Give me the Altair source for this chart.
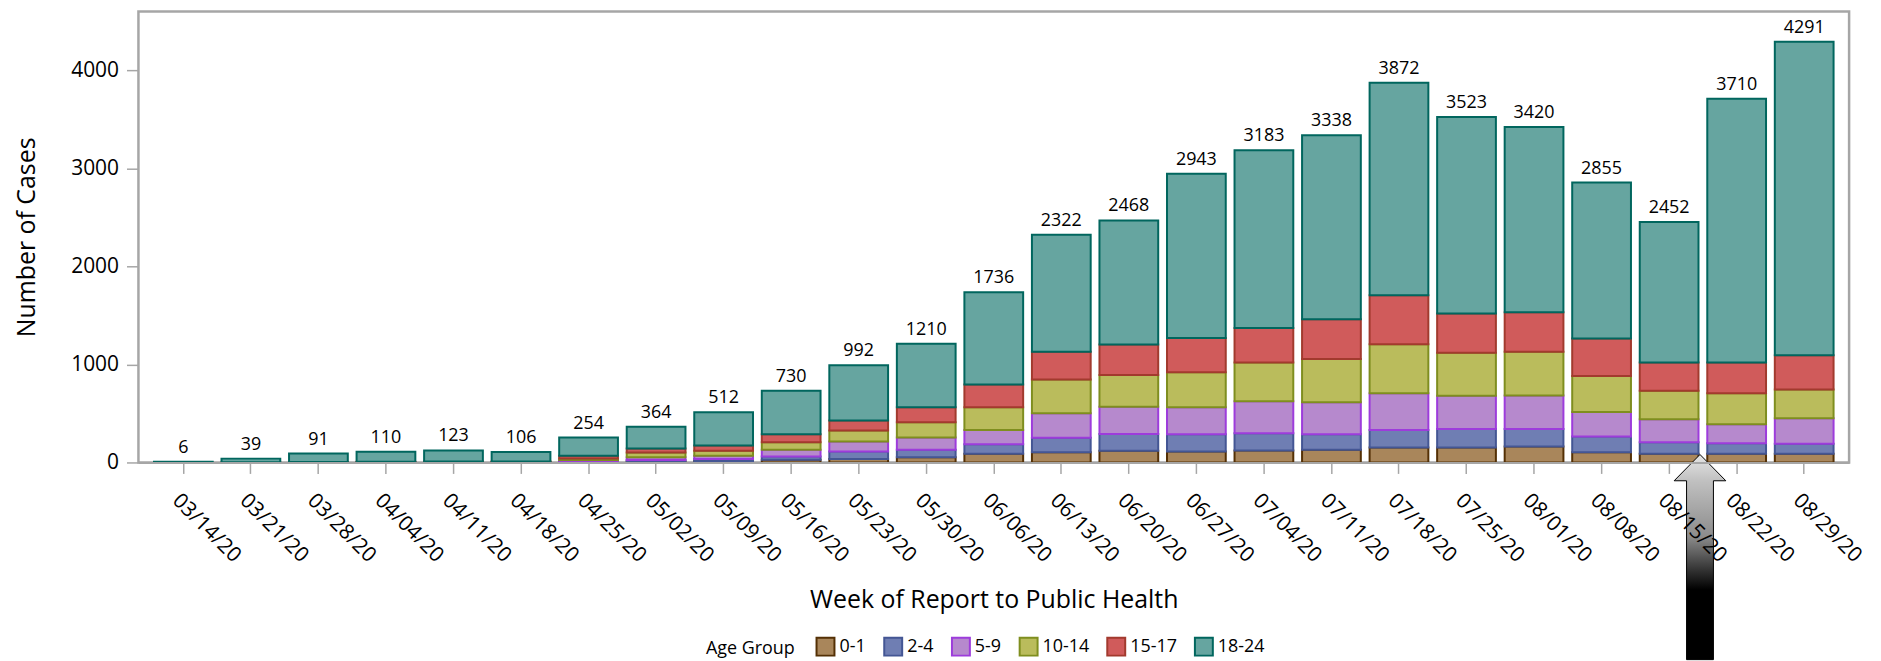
import altair as alt
import pandas as pd

weeks = ["03/14/20", "03/21/20", "03/28/20", "04/04/20", "04/11/20", "04/18/20",
         "04/25/20", "05/02/20", "05/09/20", "05/16/20", "05/23/20", "05/30/20",
         "06/06/20", "06/13/20", "06/20/20", "06/27/20", "07/04/20", "07/11/20",
         "07/18/20", "07/25/20", "08/01/20", "08/08/20", "08/15/20", "08/22/20",
         "08/29/20"]

age_groups = ["0-1", "2-4", "5-9", "10-14", "15-17", "18-24"]

cases_0_1 = [0, 0, 0, 0, 1, 1, 7, 10, 14, 27, 34, 54, 88, 105, 119, 112, 122, 129,
             152, 152, 163, 105, 88, 88, 88]
cases_2_4 = [0, 0, 0, 1, 1, 1, 7, 14, 20, 34, 78, 75, 98, 146, 172, 176, 176, 159,
             180, 190, 179, 159, 119, 108, 102]
cases_5_9 = [0, 0, 1, 1, 2, 2, 10, 30, 34, 68, 101, 125, 146, 250, 278, 274, 325, 325,
             373, 339, 342, 251, 233, 194, 261]
cases_10_14 = [0, 0, 1, 2, 2, 3, 17, 48, 51, 78, 112, 156, 230, 346, 322, 359, 397, 441,
               501, 437, 444, 366, 292, 315, 294]
cases_15_17 = [0, 1, 2, 3, 4, 4, 27, 40, 54, 81, 102, 152, 234, 281, 312, 349, 352, 406,
               498, 400, 403, 383, 288, 315, 349]
cases_18_24 = [6, 38, 87, 103, 113, 95, 186, 222, 339, 442, 565, 648, 940, 1194, 1265,
               1673, 1811, 1878, 2168, 2005, 1889, 1591, 1432, 2690, 3197]

totals = [6, 39, 91, 110, 123, 106, 254, 364, 512, 730, 992, 1210, 1736, 2322, 2468,
          2943, 3183, 3338, 3872, 3523, 3420, 2855, 2452, 3710, 4291]

y_ticks = [0, 1000, 2000, 3000, 4000]

fill_colors = ["#A9865B", "#6F7EB3", "#B689CD", "#BABC5C", "#D05B5B", "#66A5A0"]
stroke_colors = ["#543005", "#445694", "#9D3CDB", "#7F8E1F", "#A23A2E", "#01665E"]

# annotation arrow (below the axis, pointing up between 08/15 and 08/22)
arrow_week = ["08/15/20"]
arrow_y = [-965]

series = [cases_0_1, cases_2_4, cases_5_9, cases_10_14, cases_15_17, cases_18_24]
rows = []
for gi, (g, vals) in enumerate(zip(age_groups, series)):
    for w, v in zip(weeks, vals):
        rows.append({"week": w, "group": g, "order": gi, "cases": v})
df = pd.DataFrame(rows)
tot_df = pd.DataFrame({"week": weeks, "total": totals})
arrow_df = pd.DataFrame({"week": arrow_week, "y": arrow_y})

FONT = "Open Sans"
GRAY = "#a6a6a6"

xscale = alt.Scale(domain=weeks, paddingInner=0.13, paddingOuter=0.23)
yscale = alt.Scale(domain=[0, 4600], nice=False, zero=True)

xaxis = alt.Axis(title="Week of Report to Public Health", labelAngle=45,
                 labelAlign="left", labelBaseline="top", labelPadding=16,
                 tickSize=11, tickWidth=1.5, labelFontSize=21, titleFontSize=25,
                 titlePadding=22, labelOverlap=False, domainWidth=2, zindex=1)
yaxis = alt.Axis(title="Number of Cases", values=y_ticks, format="d", tickSize=12,
                 tickWidth=1.5, labelPadding=8, labelFontSize=21,
                 titleFontSize=25, titlePadding=31, domain=False, zindex=1)

legend = alt.Legend(
    title="Age Group", orient="none", legendX=570, legendY=628,
    direction="horizontal", titleOrient="left",
    symbolType="square", symbolSize=324, symbolStrokeWidth=2,
    labelFontSize=18, titleFontSize=18, titleFontWeight="normal",
    labelFont=FONT, titleFont=FONT, labelColor="black", titleColor="black",
    columnPadding=14, titlePadding=20, labelOffset=4,
)

bars = alt.Chart(df).mark_bar(strokeWidth=2, opacity=1).encode(
    x=alt.X("week:N", scale=xscale, sort=weeks, axis=xaxis),
    y=alt.Y("cases:Q", stack="zero", scale=yscale, axis=yaxis),
    fill=alt.Fill("group:N", scale=alt.Scale(domain=age_groups, range=fill_colors),
                  legend=legend),
    stroke=alt.Stroke("group:N", scale=alt.Scale(domain=age_groups, range=stroke_colors),
                      legend=legend),
    order=alt.Order("order:Q", sort="ascending"),
)

labels = alt.Chart(tot_df).mark_text(baseline="alphabetic", dy=-9, fontSize=18,
                                     font=FONT, color="black").encode(
    x=alt.X("week:N", scale=xscale, sort=weeks, axis=xaxis),
    y=alt.Y("total:Q", scale=yscale, axis=yaxis),
    text=alt.Text("total:Q", format="d"),
)

ARROW_PATH = ("M0,-1L0.252,-0.744L0.131,-0.744L0.131,1L-0.131,1L-0.131,-0.744"
              "L-0.252,-0.744Z")
grad = alt.Gradient(
    gradient="linear", x1=0, x2=0, y1=0, y2=1,
    stops=[alt.GradientStop(color="#e6e6e6", offset=0),
           alt.GradientStop(color="#c0c0c0", offset=0.13),
           alt.GradientStop(color="#8c8c8c", offset=0.40),
           alt.GradientStop(color="#3a3a3a", offset=0.55),
           alt.GradientStop(color="#000000", offset=0.66),
           alt.GradientStop(color="#000000", offset=1)],
)
arrow = alt.Chart(arrow_df).mark_point(shape=ARROW_PATH, size=42436, filled=True,
                                       fill=grad, stroke="black", strokeWidth=1,
                                       opacity=1, xOffset=1.5).encode(
    x=alt.X("week:N", scale=xscale, sort=weeks, bandPosition=1, axis=xaxis),
    y=alt.Y("y:Q", scale=yscale, axis=yaxis),
)

chart = alt.layer(bars, labels, arrow).properties(
    width=1718, height=453,
    autosize=alt.AutoSizeParams(type="none"),
    padding={"left": 131, "top": 2, "right": 24, "bottom": 198},
).configure_view(
    stroke=GRAY, strokeWidth=2.5
).configure_axis(
    domainColor=GRAY, tickColor=GRAY, labelColor="black", titleColor="black",
    labelFont=FONT, titleFont=FONT, titleFontWeight="normal", grid=False,
)

chart.save("out.html", embed_options={"renderer": "svg", "actions": False})
